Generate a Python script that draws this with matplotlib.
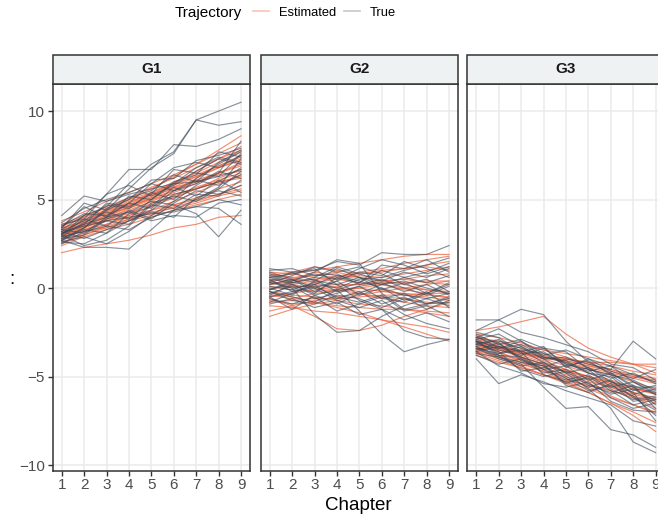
import numpy as np
import matplotlib.pyplot as plt
from matplotlib.lines import Line2D
from matplotlib.patches import Rectangle

plt.rcParams['font.family'] = ['Liberation Sans', 'DejaVu Sans']

chapters = [1, 2, 3, 4, 5, 6, 7, 8, 9]
groups = ['G1', 'G2', 'G3']

# ---- G1 ----
g1_est = [
    [2.0, 2.3, 2.5, 2.7, 3.0, 3.4, 3.6, 4.0, 4.1],
    [2.4, 2.9, 3.3, 3.6, 4.0, 4.4, 4.7, 5.0, 5.3],
    [3.5, 4.0, 4.6, 5.1, 5.7, 6.2, 6.8, 7.3, 7.8],
    [3.2, 3.8, 4.4, 5.0, 5.6, 6.3, 7.0, 7.8, 8.6],
    [2.8, 3.3, 3.8, 4.3, 4.7, 5.2, 5.7, 6.1, 6.5],
    [3.0, 3.4, 3.9, 4.2, 4.8, 5.1, 5.6, 6.0, 6.3],
    [3.6, 4.1, 4.5, 5.0, 5.4, 5.9, 6.3, 6.8, 7.2],
    [2.6, 3.0, 3.5, 3.9, 4.4, 4.9, 5.4, 5.9, 6.4],
    [3.1, 3.5, 3.8, 4.1, 4.4, 4.7, 5.0, 5.3, 5.6],
    [3.3, 3.9, 4.3, 4.9, 5.3, 5.8, 6.4, 6.9, 7.4],
    [2.9, 3.5, 4.0, 4.6, 5.1, 5.7, 6.3, 6.9, 7.5],
    [3.4, 3.7, 4.2, 4.5, 5.0, 5.3, 5.6, 6.0, 6.2],
    [2.7, 3.1, 3.6, 4.1, 4.6, 5.1, 5.6, 6.2, 6.7],
    [3.8, 4.3, 4.9, 5.4, 5.9, 6.4, 7.0, 7.6, 8.2],
    [3.0, 3.3, 3.6, 4.0, 4.3, 4.5, 4.8, 5.2, 5.5],
    [2.5, 3.0, 3.4, 3.9, 4.2, 4.7, 5.1, 5.6, 6.0],
    [3.3, 3.6, 4.1, 4.6, 5.2, 5.6, 6.1, 6.5, 7.0],
    [3.1, 3.7, 4.2, 4.8, 5.4, 6.0, 6.5, 7.1, 7.7],
    [2.9, 3.2, 3.4, 3.8, 4.1, 4.6, 4.9, 5.3, 5.8],
    [3.5, 4.0, 4.4, 4.8, 5.3, 5.7, 6.0, 6.5, 6.9],
    [3.2, 3.5, 4.0, 4.4, 4.9, 5.4, 5.9, 6.5, 7.1],
    [2.8, 3.4, 3.9, 4.5, 5.1, 5.5, 6.2, 6.8, 7.3],
    [3.4, 3.8, 4.3, 4.7, 5.0, 5.5, 6.0, 6.4, 6.6],
    [3.0, 3.6, 4.1, 4.7, 5.3, 5.9, 6.6, 7.3, 8.0],
]
g1_true = [
    [2.7, 3.4, 4.4, 5.6, 6.8, 7.6, 9.5, 10.0, 10.5],
    [3.3, 4.1, 4.6, 5.9, 7.0, 7.7, 9.5, 9.2, 9.4],
    [4.1, 5.2, 4.9, 5.3, 5.6, 5.9, 6.0, 6.3, 6.7],
    [3.0, 4.1, 5.3, 6.7, 6.7, 8.1, 8.0, 8.4, 9.0],
    [2.7, 2.3, 2.3, 2.2, 3.3, 4.4, 5.0, 5.7, 7.3],
    [3.1, 3.6, 4.0, 4.3, 4.9, 4.7, 4.2, 2.9, 4.4],
    [2.9, 3.2, 3.5, 3.3, 4.0, 4.4, 4.6, 4.5, 3.6],
    [3.4, 4.8, 4.4, 5.0, 6.1, 6.2, 7.2, 7.5, 7.9],
    [2.6, 2.5, 3.1, 3.8, 4.4, 5.3, 5.6, 6.0, 6.8],
    [3.2, 3.8, 4.7, 4.5, 5.4, 5.0, 6.2, 7.0, 7.7],
    [2.8, 3.0, 3.9, 4.3, 3.8, 4.1, 4.0, 4.8, 5.0],
    [3.5, 4.2, 4.1, 4.8, 5.9, 6.8, 7.1, 6.8, 7.5],
    [3.0, 2.4, 2.7, 3.5, 4.7, 4.5, 5.3, 5.2, 6.1],
    [2.7, 3.3, 3.1, 4.2, 4.6, 5.7, 5.2, 6.1, 5.4],
    [3.6, 3.9, 5.3, 5.8, 5.2, 5.8, 6.6, 7.3, 7.0],
    [3.1, 3.5, 3.8, 4.0, 4.2, 4.3, 4.6, 5.0, 4.7],
    [2.9, 3.7, 4.3, 3.9, 5.0, 6.0, 6.4, 7.7, 7.4],
    [3.3, 3.1, 4.0, 4.8, 4.5, 5.5, 6.1, 5.8, 6.4],
    [2.6, 2.9, 2.5, 3.2, 4.1, 4.9, 5.8, 6.5, 8.3],
    [3.7, 4.5, 5.0, 5.4, 5.9, 5.5, 5.9, 6.6, 6.2],
    [3.0, 3.9, 3.5, 4.4, 3.9, 4.8, 5.5, 5.3, 5.8],
    [2.8, 3.4, 4.5, 5.1, 5.5, 6.4, 6.0, 7.1, 7.8],
    [3.2, 2.8, 3.3, 3.8, 4.3, 4.0, 5.1, 5.5, 5.2],
    [3.4, 4.6, 4.0, 5.2, 5.0, 5.9, 6.8, 7.4, 7.1],
    [2.5, 3.2, 3.8, 3.6, 4.8, 5.2, 4.9, 5.6, 6.6],
    [3.1, 3.6, 4.8, 4.6, 5.3, 6.7, 6.5, 6.3, 7.6],
]

# ---- G2 ----
g2_est = [
    [-1.6, -1.2, -0.9, -0.7, -0.4, -0.2, 0.0, 0.2, 0.4],
    [-0.6, -1.0, -1.6, -2.3, -2.4, -2.1, -1.6, -1.2, -0.8],
    [0.6, 0.8, 1.0, 1.2, 1.4, 1.6, 1.8, 1.9, 1.9],
    [0.2, 0.4, 0.5, 0.7, 0.8, 1.0, 1.1, 1.3, 1.5],
    [-0.3, -0.5, -0.8, -1.1, -1.4, -1.8, -2.2, -2.6, -3.0],
    [0.0, 0.1, 0.1, 0.2, 0.2, 0.3, 0.3, 0.4, 0.4],
    [0.9, 0.8, 0.6, 0.5, 0.3, 0.2, 0.0, -0.1, -0.3],
    [-0.8, -0.7, -0.6, -0.6, -0.5, -0.4, -0.4, -0.3, -0.3],
    [0.4, 0.6, 0.3, 0.5, 0.7, 0.6, 0.8, 1.0, 1.2],
    [-0.2, -0.4, -0.5, -0.7, -0.9, -1.0, -1.2, -1.4, -1.6],
    [0.7, 0.9, 1.2, 1.0, 0.8, 0.9, 1.1, 1.2, 1.0],
    [-1.0, -1.1, -1.3, -1.4, -1.6, -1.8, -2.0, -2.2, -2.5],
    [0.1, -0.1, -0.2, -0.1, 0.0, -0.2, -0.3, -0.4, -0.5],
    [-0.5, -0.3, -0.1, 0.1, 0.2, 0.4, 0.5, 0.7, 0.8],
    [0.3, 0.2, 0.0, -0.1, -0.3, -0.5, -0.6, -0.8, -0.9],
    [-0.1, 0.2, 0.4, 0.6, 0.9, 1.1, 1.4, 1.6, 1.8],
    [0.5, 0.3, 0.2, 0.0, -0.2, -0.1, -0.4, -0.5, -0.7],
    [-0.7, -0.9, -0.8, -1.0, -1.1, -1.2, -1.2, -1.3, -1.4],
    [-1.3, -1.0, -0.7, -0.5, -0.3, -0.6, -0.8, -1.0, -1.1],
    [0.2, 0.5, 0.9, 0.7, 0.6, 0.4, 0.2, -0.1, -0.2],
    [0.8, 0.6, 0.7, 0.9, 0.6, 0.4, 0.5, 0.3, 0.2],
    [-0.4, -0.6, -0.3, -0.2, 0.0, 0.2, -0.1, -0.3, -0.6],
]
g2_true = [
    [1.1, 0.9, 1.0, 1.5, 1.3, 2.0, 1.9, 1.9, 2.4],
    [0.4, 0.0, -1.5, -2.5, -2.4, -1.6, -1.0, -0.6, -0.3],
    [0.8, 0.4, 0.9, 1.6, 1.4, -0.3, -1.2, -0.9, -0.8],
    [-0.2, -0.5, -0.8, -0.1, -1.3, -2.6, -3.6, -3.2, -2.9],
    [0.6, 0.8, 1.1, 0.2, -0.7, -1.2, -2.4, -2.8, -2.9],
    [-0.5, -1.2, -0.4, -0.1, 0.3, 1.0, 0.6, 0.9, 1.4],
    [0.2, 0.5, -0.2, 0.4, 0.9, 0.7, 1.5, 1.1, 0.6],
    [-0.8, -0.3, 0.2, -0.6, -0.2, -0.9, -0.5, -1.2, -0.7],
    [1.0, 1.1, 0.7, 0.8, 0.2, 0.5, 0.0, -0.4, 0.1],
    [-0.1, 0.3, 0.6, 1.2, 0.8, 0.4, 0.9, 0.6, 1.1],
    [0.5, -0.2, 0.1, -0.5, -0.8, -0.4, -1.3, -1.0, -1.6],
    [-0.4, 0.2, -0.3, 0.6, 0.3, 1.3, 1.1, 1.6, 0.9],
    [0.3, 0.7, 1.2, 0.9, 1.2, 0.8, 0.2, 0.5, -0.2],
    [-0.9, -0.6, -1.1, -0.8, -1.5, -1.2, -1.8, -1.4, -1.9],
    [0.0, -0.4, 0.4, 0.2, 0.6, -0.1, 0.3, -0.3, 0.2],
    [0.7, 0.3, 0.5, -0.2, 0.1, -0.6, -0.3, -0.9, -0.5],
    [-0.3, 0.1, -0.6, -0.3, 0.1, 0.3, -0.2, 0.2, -0.4],
    [0.9, 0.5, 0.0, 0.4, -0.4, 0.0, -0.7, -0.2, -1.1],
    [-0.6, -0.9, -0.5, -1.3, -0.9, -0.5, -0.8, -0.3, 0.3],
    [0.1, -0.1, 0.3, 0.0, 0.5, 0.6, 1.0, 1.3, 1.7],
    [0.4, 0.9, 0.4, 1.1, 0.6, 0.2, 0.4, 0.0, -0.3],
    [-0.2, -0.7, -0.9, -0.4, -0.6, -1.1, -0.6, -0.9, -0.6],
    [0.6, 0.2, -0.4, -0.9, -0.3, 0.2, 0.6, 0.3, 0.7],
    [-0.1, 0.4, 0.8, 0.5, 1.1, 1.6, 1.3, 0.8, 1.2],
    [0.3, 0.0, 0.2, 0.7, 0.4, 0.0, -0.4, -0.6, -1.0],
    [-0.5, -0.2, 0.0, -0.7, -1.1, -0.7, -1.5, -2.0, -2.3],
]

# ---- G3 ----
g3_est = [
    [-3.0, -3.3, -3.6, -3.9, -4.2, -4.5, -4.8, -5.1, -5.4],
    [-2.4, -2.2, -1.9, -1.6, -2.6, -3.4, -3.9, -4.3, -4.8],
    [-3.5, -3.8, -4.2, -4.5, -4.9, -5.3, -5.6, -6.0, -6.3],
    [-2.8, -3.0, -3.2, -3.5, -3.7, -3.9, -4.1, -4.3, -4.5],
    [-3.2, -3.6, -4.1, -4.6, -5.1, -5.6, -6.1, -6.6, -7.1],
    [-3.7, -4.1, -4.5, -4.9, -5.3, -5.7, -6.2, -6.6, -7.0],
    [-2.6, -2.8, -3.1, -3.5, -3.9, -4.3, -4.6, -5.0, -5.3],
    [-3.1, -3.3, -3.5, -3.7, -4.0, -4.2, -4.4, -4.7, -4.9],
    [-3.4, -3.9, -4.4, -4.9, -5.4, -5.9, -6.5, -7.0, -7.6],
    [-2.9, -3.2, -3.6, -4.0, -4.4, -4.8, -5.2, -5.6, -6.0],
    [-3.3, -3.4, -3.7, -4.0, -4.1, -4.4, -4.6, -4.9, -5.1],
    [-3.6, -4.0, -4.3, -4.7, -5.0, -5.4, -5.8, -6.1, -6.4],
    [-2.7, -3.1, -3.4, -3.8, -4.2, -4.6, -4.9, -5.3, -5.7],
    [-3.0, -3.6, -4.2, -4.7, -5.3, -5.9, -6.5, -7.2, -8.1],
    [-3.8, -4.2, -4.5, -4.9, -5.2, -5.5, -5.8, -6.2, -6.5],
    [-3.2, -3.4, -3.6, -3.9, -4.1, -4.4, -4.7, -5.0, -5.2],
    [-3.5, -3.3, -3.8, -4.2, -4.6, -5.0, -5.3, -5.7, -6.0],
    [-2.8, -3.3, -3.7, -4.1, -4.6, -5.0, -5.4, -5.9, -6.3],
    [-3.1, -3.5, -3.9, -4.3, -4.7, -5.1, -5.5, -5.9, -6.2],
    [-3.4, -3.5, -3.7, -3.9, -4.0, -4.2, -4.2, -4.3, -4.3],
    [-3.0, -3.4, -3.9, -4.3, -4.8, -5.2, -5.6, -6.1, -6.8],
    [-3.6, -3.8, -4.0, -4.4, -4.7, -5.0, -5.4, -5.7, -5.9],
]
g3_true = [
    [-2.4, -1.8, -1.2, -1.5, -3.0, -4.2, -4.8, -5.5, -6.0],
    [-1.8, -1.8, -2.5, -2.8, -3.2, -3.6, -4.3, -4.5, -5.2],
    [-4.0, -5.4, -4.9, -5.3, -5.8, -6.2, -6.6, -7.5, -7.8],
    [-2.9, -2.6, -3.3, -4.0, -4.8, -5.7, -6.8, -8.7, -9.3],
    [-3.3, -3.9, -4.3, -5.6, -6.8, -6.7, -8.0, -8.3, -9.0],
    [-3.1, -3.6, -4.7, -4.5, -4.0, -4.3, -4.6, -3.0, -4.0],
    [-2.6, -3.2, -2.9, -3.4, -3.6, -4.6, -4.9, -5.2, -5.8],
    [-3.6, -3.3, -3.9, -4.6, -5.2, -4.9, -5.7, -6.3, -6.1],
    [-3.0, -3.7, -3.5, -4.2, -4.8, -4.5, -5.3, -5.6, -6.6],
    [-2.8, -2.3, -3.0, -3.9, -4.1, -4.8, -5.0, -6.0, -5.7],
    [-3.4, -4.0, -4.4, -4.2, -5.0, -5.6, -5.2, -6.2, -6.9],
    [-3.2, -2.9, -3.7, -3.6, -4.4, -4.1, -4.9, -5.8, -5.5],
    [-3.8, -4.3, -4.0, -4.8, -4.6, -5.4, -6.0, -5.7, -6.4],
    [-2.7, -3.4, -3.2, -3.8, -3.5, -4.0, -4.4, -4.9, -5.3],
    [-3.5, -3.1, -4.1, -4.4, -5.4, -5.0, -5.8, -6.6, -6.3],
    [-2.9, -3.5, -3.8, -3.4, -4.3, -4.7, -4.4, -5.3, -5.9],
    [-3.3, -3.8, -4.6, -5.0, -4.7, -5.5, -5.9, -5.5, -6.8],
    [-3.1, -3.0, -3.4, -4.0, -3.9, -4.5, -5.1, -4.8, -5.4],
    [-3.7, -3.9, -4.2, -4.4, -5.1, -5.8, -5.5, -6.1, -7.2],
    [-2.5, -2.8, -3.6, -3.3, -4.5, -4.0, -4.7, -5.1, -4.6],
    [-3.0, -3.3, -3.6, -4.9, -5.3, -5.1, -6.2, -6.8, -6.5],
    [-3.4, -3.7, -3.3, -3.9, -4.2, -4.8, -5.3, -5.9, -7.5],
    [-2.8, -3.1, -4.0, -4.6, -4.4, -5.2, -4.8, -5.6, -5.6],
    [-3.6, -4.4, -4.8, -5.4, -5.6, -5.3, -6.4, -6.9, -7.0],
    [-3.2, -3.4, -3.0, -3.7, -4.3, -4.6, -5.6, -5.3, -6.0],
    [-3.0, -3.8, -3.9, -4.3, -5.5, -5.9, -5.4, -6.4, -6.2],
]

est_data = [g1_est, g2_est, g3_est]
true_data = [g1_true, g2_true, g3_true]

est_color = '#EE6A45'
true_color = '#3A4858'
dark = '#333333'

W, H = 658, 517
fig = plt.figure(figsize=(W / 100, H / 100), dpi=100)

panel_lefts = [52.7, 260.7, 467.3]
panel_w = 197.3
panel_top, panel_bot = 84.0, 470.7
strip_h = 29.5

for i, (grp, left) in enumerate(zip(groups, panel_lefts)):
    ax = fig.add_axes([left / W, 1 - panel_bot / H, panel_w / W,
                       (panel_bot - panel_top) / H])
    ax.set_facecolor('white')
    est = est_data[i]
    tru = true_data[i]
    for k in range(max(len(est), len(tru))):
        if k < len(est):
            ax.plot(chapters, est[k], color=est_color, alpha=0.75, lw=0.85, zorder=2)
        if k < len(tru):
            ax.plot(chapters, tru[k], color=true_color, alpha=0.6, lw=0.85, zorder=3)
    ax.set_xlim(0.6, 9.4)
    ax.set_ylim(-10.32, 11.53)
    ax.set_xticks(chapters)
    ax.set_yticks([-10, -5, 0, 5, 10])
    ax.set_yticklabels(['\u221210', '\u22125', '0', '5', '10'])
    ax.grid(True, color='#EBEBEB', lw=1.1, zorder=0)
    ax.set_axisbelow(True)
    for sp in ax.spines.values():
        sp.set_color(dark)
        sp.set_linewidth(1.1)
    ax.tick_params(axis='both', colors=dark, length=3.5, width=1.0,
                   labelsize=11, labelcolor='#4D4D4D', pad=2)
    if i > 0:
        ax.tick_params(axis='y', left=False, labelleft=False)
    # facet strip
    sh = strip_h / (panel_bot - panel_top)
    ax.add_patch(Rectangle((0, 1), 1, sh, transform=ax.transAxes, clip_on=False,
                           facecolor='#EFF2F2', edgecolor=dark, lw=1.1, zorder=5))
    ax.text(0.5, 1 + sh / 2, grp, transform=ax.transAxes, ha='center', va='center',
            fontsize=11, fontweight='bold', color='#1A1A1A', zorder=6)

fig.text(358.6 / W, 1 - 505 / H, 'Chapter', ha='center', va='center', fontsize=13.5)
fig.text(12 / W, 1 - 279 / H, ':', ha='center', va='center', fontsize=13.5)

# legend at top
fig.text(208.5 / W, 1 - 13 / H, 'Trajectory', ha='center', va='center', fontsize=11)
handles = [Line2D([], [], color=est_color, alpha=0.4, lw=1.2),
           Line2D([], [], color=true_color, alpha=0.3, lw=1.2)]
fig.legend(handles, ['Estimated', 'True'], loc='center left',
           bbox_to_anchor=(253 / W, 1 - 13 / H), ncol=2, frameon=False,
           fontsize=9.3, handlelength=1.25, handletextpad=0.75, columnspacing=0.6,
           borderpad=0, borderaxespad=0)

fig.savefig('out.png', dpi=100)
